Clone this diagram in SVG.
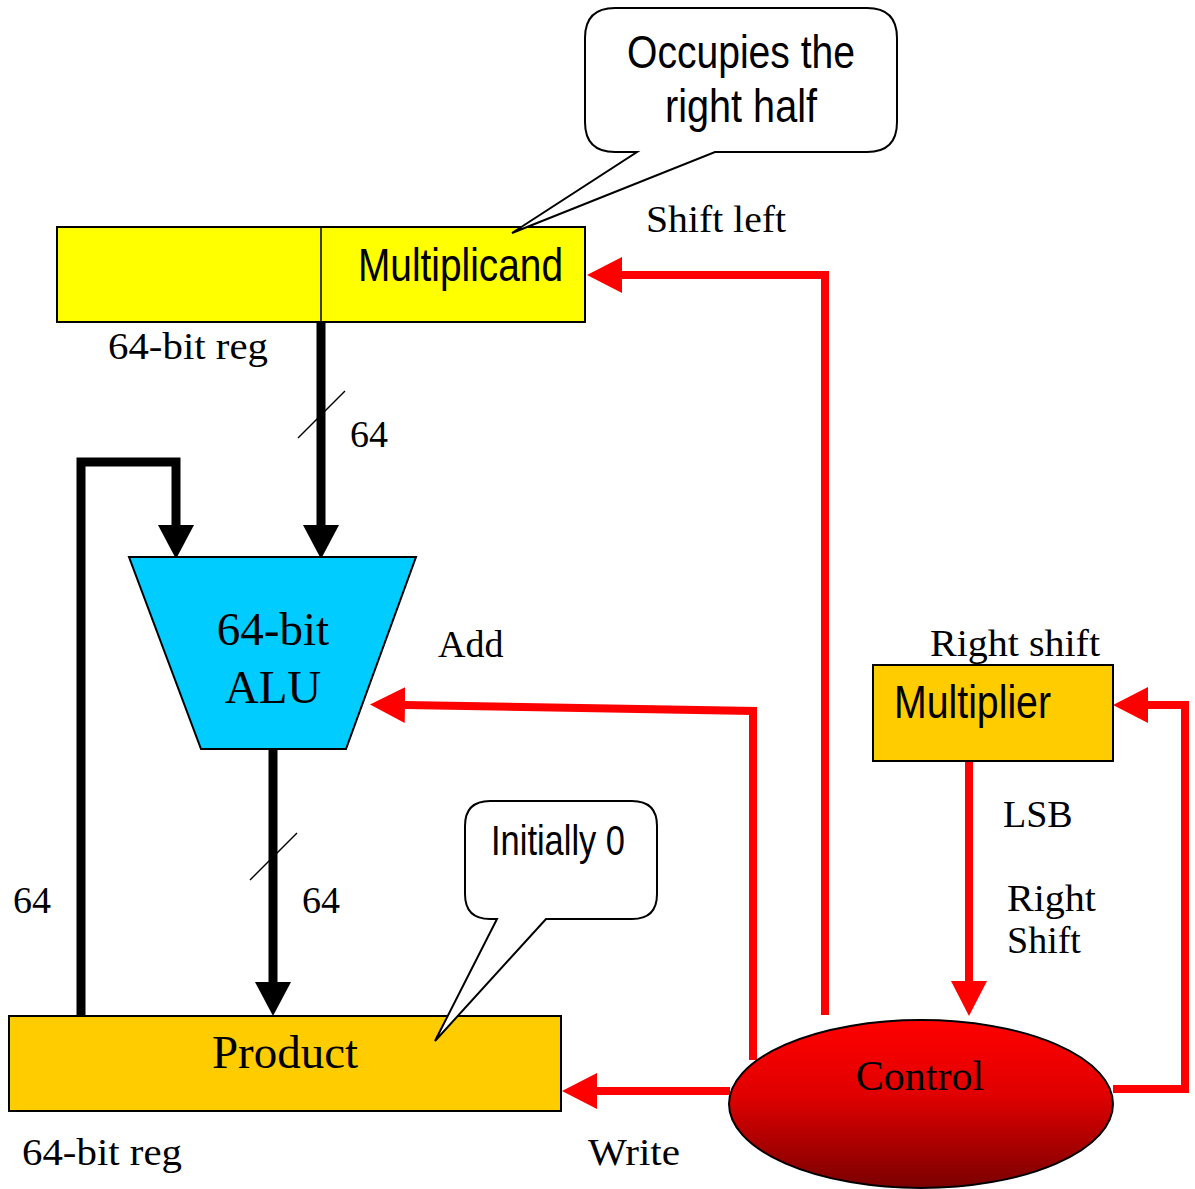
<svg xmlns="http://www.w3.org/2000/svg" width="1195" height="1189" viewBox="0 0 1195 1189">
<style>
.serif{font-family:"Liberation Serif","Times New Roman",serif;font-size:38px;fill:#000}
.big{font-size:47px}
.ctext{font-size:42px}
.sans{font-family:"Liberation Sans",Arial,sans-serif;fill:#000}
.box{stroke:#000;stroke-width:2}
.bus{fill:none;stroke:#000;stroke-width:9;stroke-linejoin:miter}
.ctl{fill:none;stroke:#FF0000;stroke-width:8;stroke-linejoin:miter}
.tick{stroke:#000;stroke-width:1.5}
.callout{fill:#fff;stroke:#000;stroke-width:2}
</style>
<defs>
<marker id="ab" markerUnits="userSpaceOnUse" viewBox="0 0 34 36" refX="0" refY="18" markerWidth="34" markerHeight="36" orient="auto"><path d="M0,0 L34,18 L0,36 z" fill="#000"/></marker>
<marker id="ar" markerUnits="userSpaceOnUse" viewBox="0 0 35 36" refX="0" refY="18" markerWidth="35" markerHeight="36" orient="auto"><path d="M0,0 L35,18 L0,36 z" fill="#FF0000"/></marker>
<linearGradient id="ctlg" x1="0" y1="0" x2="0" y2="1"><stop offset="0" stop-color="#FF0000"/><stop offset="0.45" stop-color="#E00000"/><stop offset="1" stop-color="#7A0000"/></linearGradient>
</defs>
<g id="connectors">
<path class="bus" d="M321,322 V525" marker-end="url(#ab)"/>
<path class="bus" d="M81,1016 V462 H176 V525" marker-end="url(#ab)"/>
<path class="bus" d="M273,750 V982" marker-end="url(#ab)"/>
<line class="tick" x1="298" y1="438" x2="345" y2="391"/>
<line class="tick" x1="250" y1="880" x2="297" y2="833"/>
<path class="ctl" d="M825,1015 V275 H622" marker-end="url(#ar)"/>
<path class="ctl" d="M753,1060 V711 L405,705" marker-end="url(#ar)"/>
<path class="ctl" d="M730,1091 H597" marker-end="url(#ar)"/>
<path class="ctl" d="M969,755 V981" marker-end="url(#ar)"/>
<path class="ctl" d="M1113,1089 H1185 V705 H1148" marker-end="url(#ar)"/>
</g>
<g id="multiplicand">
<rect class="box" x="57" y="227" width="528" height="95" fill="#FFFF00"/>
<line x1="321" y1="227" x2="321" y2="322" stroke="#000" stroke-width="1.5"/>
<text class="sans" x="358" y="281" font-size="46" textLength="205" lengthAdjust="spacingAndGlyphs">Multiplicand</text>
<text class="serif" x="108" y="359" textLength="160" lengthAdjust="spacingAndGlyphs">64-bit reg</text>
</g>
<g id="callout-top">
<path class="callout" d="M615,8 H867 Q897,8 897,38 V122 Q897,152 867,152 H715 L512,233 L637,152 H615 Q585,152 585,122 V38 Q585,8 615,8 z"/>
<text class="sans" x="741" y="68" font-size="46" text-anchor="middle" textLength="228" lengthAdjust="spacingAndGlyphs">Occupies the</text>
<text class="sans" x="741" y="122" font-size="46" text-anchor="middle" textLength="152" lengthAdjust="spacingAndGlyphs">right half</text>
</g>
<text class="serif" x="646" y="232" textLength="140" lengthAdjust="spacingAndGlyphs">Shift left</text>
<text class="serif" x="350" y="447">64</text>
<g id="alu">
<polygon points="129,557 416,557 346,749 201,749" fill="#00CCFF" stroke="#000" stroke-width="2"/>
<text class="serif big" x="273" y="645" text-anchor="middle">64-bit</text>
<text class="serif big" x="273" y="703" text-anchor="middle">ALU</text>
</g>
<text class="serif" x="438" y="657">Add</text>
<g id="multiplier">
<rect class="box" x="873" y="665" width="240" height="96" fill="#FFCC00"/>
<text class="sans" x="894" y="718" font-size="46" textLength="157" lengthAdjust="spacingAndGlyphs">Multiplier</text>
</g>
<text class="serif" x="930" y="656" textLength="170" lengthAdjust="spacingAndGlyphs">Right shift</text>
<text class="serif" x="1003" y="827">LSB</text>
<text class="serif" x="1007" y="911" textLength="89" lengthAdjust="spacingAndGlyphs">Right</text>
<text class="serif" x="1007" y="953">Shift</text>
<text class="serif" x="13" y="913">64</text>
<text class="serif" x="302" y="913">64</text>
<g id="product">
<rect class="box" x="9" y="1016" width="552" height="95" fill="#FFCC00"/>
<text class="serif big" x="285" y="1068" text-anchor="middle">Product</text>
<text class="serif" x="22" y="1165" textLength="160" lengthAdjust="spacingAndGlyphs">64-bit reg</text>
</g>
<g id="callout-product">
<path class="callout" d="M490,801 H632 Q657,801 657,826 V894 Q657,919 632,919 H546 L435,1041 L497,919 H490 Q465,919 465,894 V826 Q465,801 490,801 z"/>
<text class="sans" x="491" y="855" font-size="42" textLength="134" lengthAdjust="spacingAndGlyphs">Initially 0</text>
</g>
<text class="serif" x="588" y="1165" textLength="92" lengthAdjust="spacingAndGlyphs">Write</text>
<g id="control">
<ellipse cx="921" cy="1104" rx="192" ry="84" fill="url(#ctlg)" stroke="#000" stroke-width="2"/>
<text class="serif ctext" x="920" y="1090" text-anchor="middle">Control</text>
</g>
</svg>
